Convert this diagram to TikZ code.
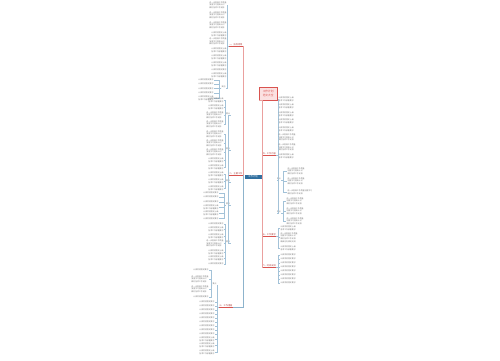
\documentclass[tikz,border=0pt]{standalone}
\usepackage{fontspec}
\newfontfamily\cjk{Noto Sans CJK SC}
\definecolor{connc}{HTML}{A3C2D8}
\definecolor{trunkc}{HTML}{8DB3CC}
\definecolor{redc}{HTML}{D9534F}
\definecolor{rootc}{HTML}{2F6F9F}
\definecolor{pinkc}{HTML}{FBE1E1}
\definecolor{leafc}{HTML}{7A7A7A}
\def\tA{认真贯彻落实要求}
\def\tB{认真贯彻落实上级\\各项工作部署要求}
\def\tC{进一步提高工作质量\\加强学习提高认识\\做好各项工作安排}
\def\tD{进一步提高工作质量\\加强学习提高认识\\做好各项工作安排\\确保任务顺利完成}
\def\tW{进一步提高工作质量加强学习\\做好各项工作安排}
\tikzset{
  leaf/.style={font=\cjk\fontsize{1.9}{2.6}\selectfont, text=leafc, inner sep=0.3bp, align=left},
  lbl/.style={font=\cjk\fontsize{2.2}{2.8}\selectfont, text=redc!80!black, inner sep=0.4bp},
  sublbl/.style={font=\cjk\fontsize{1.9}{2.4}\selectfont, text=leafc, inner sep=0.3bp},
  rootbox/.style={fill=rootc, text=white, font=\cjk\fontsize{2.4}{2.8}\selectfont, minimum width=17bp, minimum height=4.2bp, inner sep=0.2bp},
  pinkbox/.style={fill=pinkc, draw=redc, line width=0.3bp, text=redc, font=\cjk\fontsize{2.7}{3.4}\selectfont, align=center, minimum width=18bp, minimum height=13bp, inner sep=0.5bp},
  conn/.style={draw=connc, line width=0.3bp},
  trunk/.style={draw=trunkc, line width=0.4bp},
  trunkr/.style={draw=redc!55, line width=0.4bp},
  uline/.style={draw=redc, line width=0.45bp}
}
\begin{document}
\begin{tikzpicture}[x=1bp,y=-1bp]
\useasboundingbox (0,0) rectangle (500,360);
\fill[white] (0,0) rectangle (500,360);

% root
\node[rootbox] (root) at (253,177) {工作计划};

% left main labels
\node[lbl,anchor=south east] (L1) at (243,46) {一、指导思想};
\node[lbl,anchor=south east] (L2) at (243,175) {二、主要工作};
\node[lbl,anchor=south east] (L3) at (233,307) {三、工作措施};
\foreach \n in {L1,L2,L3}{\draw[uline] (\n.south west) -- (\n.south east);}
\draw[trunkr] (root.west) -- ++(-1.5,0) |- (L1.south east);
\foreach \n in {L2,L3}{\draw[trunk] (root.west) -- ++(-1.5,0) |- (\n.south east);}

% L1 children
\foreach \y/\q [count=\i] in {5/\tC,15/\tC,25/\tC,34/\tB,41.5/\tC,50/\tB,57/\tB,64/\tB,70/\tA,75.5/\tB}{
  \node[leaf,anchor=east] (a\i) at (227,\y) {\q};
  \draw[conn] (L1.south west) -- ++(-1.5,0) |- (a\i.east);
}
\node[sublbl,anchor=south east] (S1) at (226,88) {其他};
\draw[conn] (L1.south west) -- ++(-1.5,0) |- (S1.south east);
\foreach \y/\q [count=\i] in {80/\tA,84/\tA,88.5/\tA,93/\tA,98/\tB}{
  \node[leaf,anchor=east] (s\i) at (214,\y) {\q};
  \draw[conn] (S1.south west) -- ++(-2,0) |- (s\i.east);
}

% L2 sub branches
\node[sublbl,anchor=south east] (A) at (230.5,115) {要点};
\node[sublbl,anchor=south east] (B) at (230.5,150) {要点};
\node[sublbl,anchor=south east] (C) at (230.5,182) {要点};
\node[sublbl,anchor=south east] (D) at (230.5,205) {要点};
\node[sublbl,anchor=south east] (E) at (230.5,243) {要点};
\foreach \n in {A,B,C,D,E}{\draw[conn] (L2.south west) -- ++(-1,0) |- (\n.south east);}
\foreach \y/\q [count=\i] in {100/\tB,107/\tB,115/\tC,124/\tC}{
  \node[leaf,anchor=east] (ga\i) at (224,\y) {\q};
  \draw[conn] (A.south west) -- ++(-1,0) |- (ga\i.east);
}
\foreach \y/\q [count=\i] in {134/\tC,143/\tC,152/\tC,160.5/\tB,167/\tB}{
  \node[leaf,anchor=east] (gb\i) at (224,\y) {\q};
  \draw[conn] (B.south west) -- ++(-1,0) |- (gb\i.east);
}
\foreach \y/\q [count=\i] in {174/\tB,181/\tB,188/\tB}{
  \node[leaf,anchor=east] (gc\i) at (224,\y) {\q};
  \draw[conn] (C.south west) -- ++(-1,0) |- (gc\i.east);
}
\foreach \y/\q [count=\i] in {193/\tA,197/\tA,202/\tA,207.5/\tB,213.5/\tB,218.5/\tA}{
  \node[leaf,anchor=east] (gd\i) at (219,\y) {\q};
  \draw[conn] (D.south west) -- ++(-1.5,0) |- (gd\i.east);
}
\foreach \y/\q [count=\i] in {224/\tA,229/\tB,236/\tB,243.5/\tC,252/\tB,258.5/\tB,264/\tA}{
  \node[leaf,anchor=east] (ge\i) at (224,\y) {\q};
  \draw[conn] (E.south west) -- ++(-1,0) |- (ge\i.east);
}

% L3 children
\node[sublbl,anchor=south east] (F) at (217,285) {要点};
\draw[conn] (L3.south west) -- ++(-2,0) |- (F.south east);
\foreach \y/\q [count=\i] in {270/\tA,279/\tC,289/\tC,297/\tA}{
  \node[leaf,anchor=east] (gf\i) at (209,\y) {\q};
  \draw[conn] (F.south west) -- ++(-1.5,0) |- (gf\i.east);
}
\foreach \y/\q [count=\i] in {302/\tA,306/\tA,310/\tA,314/\tA,318/\tA,322/\tA,326/\tA,330/\tA,334/\tA,339/\tB,345.5/\tB,352/\tB}{
  \node[leaf,anchor=east] (gl\i) at (215,\y) {\q};
  \draw[conn] (L3.south west) -- ++(-2,0) |- (gl\i.east);
}

% right side
\node[pinkbox,anchor=south west] (R1) at (259,100) {工作计划\\范文大全};
\node[lbl,anchor=south west] (R2) at (262,155) {四、工作内容};
\node[lbl,anchor=south west] (R3) at (262,236) {五、工作要求};
\node[lbl,anchor=south west] (R4) at (262,267) {六、时间安排};
\foreach \n in {R2,R3,R4}{\draw[uline] (\n.south west) -- (\n.south east);}
\foreach \n in {R1,R2,R3,R4}{\draw[trunkr] (root.east) -- ++(0.5,0) |- (\n.south west);}

\foreach \y/\q [count=\i] in {99/\tB,106.5/\tB,114/\tB,121.5/\tB,129/\tB,137.5/\tC,147.5/\tC,156/\tB}{
  \node[leaf,anchor=west] (r\i) at (278,\y) {\q};
  \draw[conn] (R2.south east) -- ++(1.5,0) |- (r\i.west);
}
\node[sublbl,anchor=south west] (G) at (276.5,180) {要点};
\node[sublbl,anchor=south west] (H) at (276.5,213) {要点};
\foreach \n in {G,H}{\draw[conn] (R2.south east) -- ++(1.5,0) |- (\n.south west);}
\foreach \y/\q [count=\i] in {171/\tC,181/\tC,192/\tW}{
  \node[leaf,anchor=west] (rg\i) at (287,\y) {\q};
  \draw[conn] (G.south east) -- ++(1.5,0) |- (rg\i.west);
}
\foreach \y/\q [count=\i] in {201/\tC,211/\tC,221/\tC}{
  \node[leaf,anchor=west] (rh\i) at (286,\y) {\q};
  \draw[conn] (H.south east) -- ++(1.5,0) |- (rh\i.west);
}
\foreach \y/\q [count=\i] in {228/\tB,237.5/\tD,248.5/\tB}{
  \node[leaf,anchor=west] (rr\i) at (280,\y) {\q};
  \draw[conn] (R3.south east) -- ++(1.5,0) |- (rr\i.west);
}
\foreach \y/\q [count=\i] in {255/\tA,259/\tA,263/\tA,267/\tA,271/\tA,275/\tA,279/\tA,283/\tA}{
  \node[leaf,anchor=west] (rs\i) at (280,\y) {\q};
  \draw[conn] (R4.south east) -- ++(1.5,0) |- (rs\i.west);
}
\end{tikzpicture}
\end{document}
